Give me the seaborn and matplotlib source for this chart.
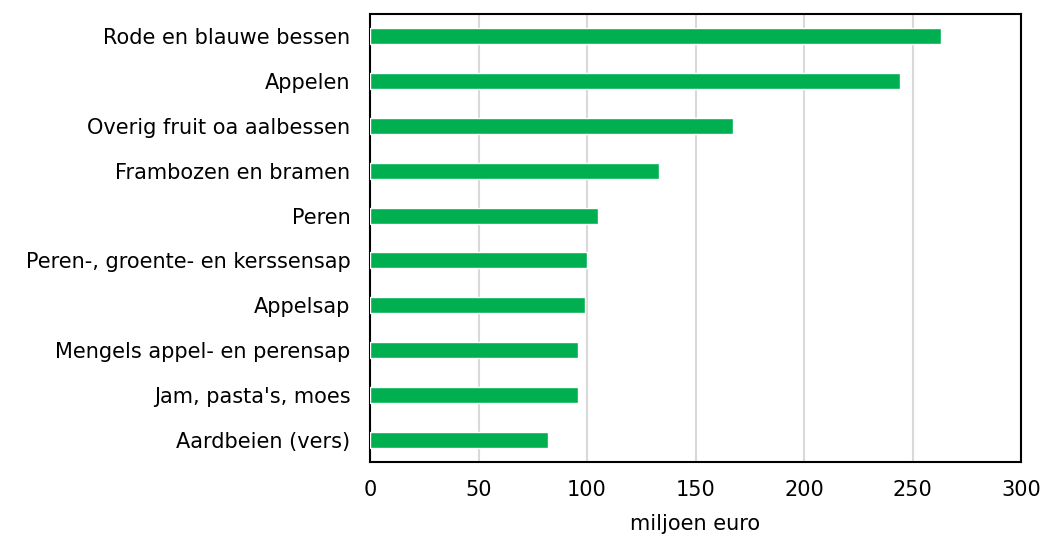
import pandas as pd
import seaborn as sns
import matplotlib.pyplot as plt

# Values (miljoen euro)
categories = [
    "Rode en blauwe bessen",
    "Appelen",
    "Overig fruit oa aalbessen",
    "Frambozen en bramen",
    "Peren",
    "Peren-, groente- en kerssensap",
    "Appelsap",
    "Mengels appel- en perensap",
    "Jam, pasta's, moes",
    "Aardbeien (vers)",
]
values = [263, 244, 167.5, 133, 105, 100, 99, 96, 96, 82]

df = pd.DataFrame({"product": categories, "waarde": values})

sns.set_style("white")
plt.rcParams["font.family"] = ["DejaVu Sans"]
plt.rcParams["text.color"] = "black"
plt.rcParams["xtick.color"] = "black"
plt.rcParams["ytick.color"] = "black"

fig = plt.figure(figsize=(10.44, 5.37), dpi=100)
ax = fig.add_axes([0.3544, 0.1397, 0.6236, 0.8342])

sns.barplot(data=df, x="waarde", y="product", color="#00B050",
            width=0.36, saturation=1, ax=ax, zorder=3)

ax.set_xlim(0, 300)
ax.set_xticks(range(0, 301, 50))
ax.grid(axis="x", color="#D9D9D9", linewidth=1.5, zorder=0)
ax.set_axisbelow(True)

for side in ["top", "right", "bottom", "left"]:
    ax.spines[side].set_visible(True)
    ax.spines[side].set_color("black")
    ax.spines[side].set_linewidth(1.5)

ax.tick_params(axis="y", labelsize=15, length=0, pad=14, labelcolor="black")
ax.tick_params(axis="x", labelsize=15, length=0, pad=13, labelcolor="black")
ax.set_ylabel("")
ax.set_xlabel("miljoen euro", fontsize=15, labelpad=10, color="black")

plt.savefig("out.png", dpi=100)
